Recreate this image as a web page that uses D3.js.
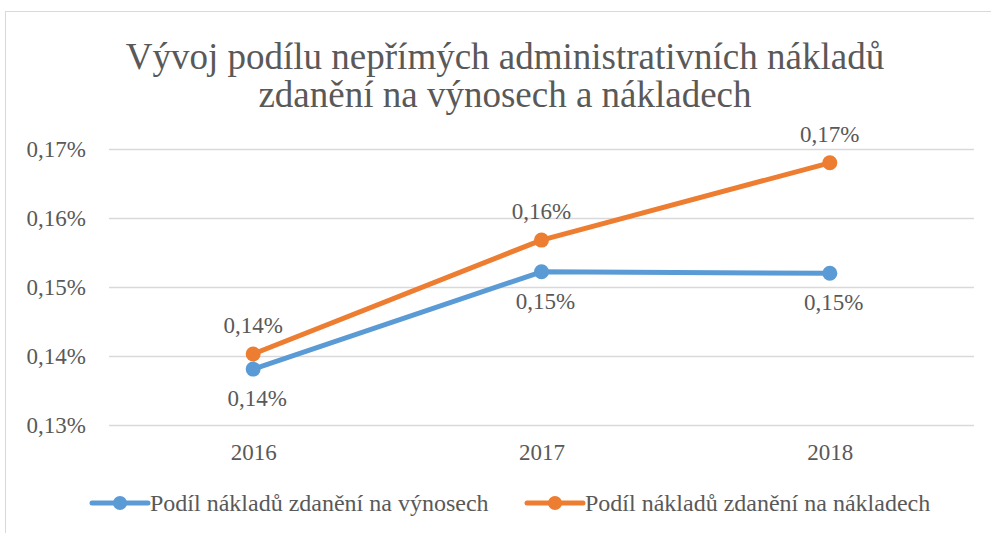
<!DOCTYPE html>
<html><head><meta charset="utf-8">
<script src="https://cdn.jsdelivr.net/npm/d3@7"></script>
<style>body{margin:0;background:#fff}svg{display:block}</style>
</head><body><svg id="c" width="991" height="533"></svg>
<script>
const titleLines = ["Vývoj podílu nepřímých administrativních nákladů", "zdanění na výnosech a nákladech"];
const years = ["2016", "2017", "2018"];
const seriesNames = ["Podíl nákladů zdanění na výnosech", "Podíl nákladů zdanění na nákladech"];
const revenueShare = [0.1381, 0.1522, 0.1520];
const costShare = [0.1403, 0.1568, 0.1680];
const yTicks = [0.13, 0.14, 0.15, 0.16, 0.17];
const colors = ["#5B9BD5", "#ED7D31"];

(function () {
const FONT = "'Liberation Serif', 'Times New Roman', Tinos, serif";
const TXT = "#595959";
const svg = d3.select("#c").style("font-family", FONT);
svg.append("rect").attr("x", 5.5).attr("y", 11.5).attr("width", 1000).attr("height", 530)
  .attr("fill", "#fff").attr("stroke", "#d9d9d9").attr("stroke-width", 1);

const pL = 109, pR = 974, pT = 149, pB = 425;
const x = d3.scalePoint().domain(years).range([pL, pR]).padding(0.5);
const y = d3.scaleLinear().domain([0.13, 0.17]).range([pB, pT]);
const fmt = v => d3.format(".2f")(v).replace(".", ",") + "%";

svg.append("g").selectAll("text").data(titleLines).join("text")
  .attr("x", 505).attr("y", (d, i) => 69 + i * 38)
  .attr("text-anchor", "middle").style("font-size", "37px").style("font-family", FONT).attr("fill", TXT).text(d => d);

const yAxis = d3.axisLeft(y).tickValues(yTicks).tickSize(-(pR - pL)).tickFormat(fmt).tickPadding(23);
const gy = svg.append("g").attr("transform", `translate(${pL},0)`).call(yAxis);
gy.select(".domain").remove();
gy.selectAll(".tick line").attr("stroke", "#d9d9d9").attr("stroke-width", 1.5);
gy.selectAll(".tick text").style("font-size", "23px").attr("fill", TXT).style("font-family", FONT);

const xAxis = d3.axisBottom(x).tickSize(0).tickPadding(19);
const gx = svg.append("g").attr("transform", `translate(0,${pB})`).call(xAxis);
gx.select(".domain").remove();
gx.selectAll(".tick text").style("font-size", "23px").attr("fill", TXT).style("font-family", FONT);

const series = [revenueShare, costShare];
const line = d3.line().x((d, i) => x(years[i])).y(d => y(d));
series.forEach((s, k) => {
  svg.append("path").datum(s).attr("d", line).attr("fill", "none")
    .attr("stroke", colors[k]).attr("stroke-width", 5).attr("stroke-linecap", "round").attr("stroke-linejoin", "round");
  svg.append("g").selectAll("circle").data(s).join("circle")
    .attr("cx", (d, i) => x(years[i])).attr("cy", d => y(d)).attr("r", 7.5).attr("fill", colors[k]);
  svg.append("g").selectAll("text").data(s).join("text")
    .attr("x", (d, i) => x(years[i]) + (k === 0 ? 4 : 0))
    .attr("y", d => y(d) + (k === 0 ? 37 : -21))
    .attr("text-anchor", "middle").style("font-size", "23px").style("font-family", FONT).attr("fill", TXT).text(d => fmt(d));
});

const legX = [92, 527];
seriesNames.forEach((n, k) => {
  const g = svg.append("g").attr("transform", `translate(${legX[k]},503)`);
  g.append("line").attr("x1", 0).attr("x2", 56).attr("stroke", colors[k]).attr("stroke-width", 5).attr("stroke-linecap", "round");
  g.append("circle").attr("cx", 28).attr("r", 7).attr("fill", colors[k]);
  g.append("text").attr("x", 58).attr("y", 8).style("font-size", "24px").style("font-family", FONT).attr("fill", TXT).text(n);
});
})();
</script></body></html>
